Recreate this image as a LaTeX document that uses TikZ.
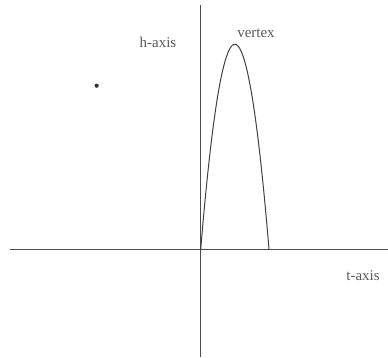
\documentclass[tikz,border=0pt]{standalone}
\usepackage{fontspec}
\setmainfont{Liberation Serif}
\begin{document}
\begin{tikzpicture}[x=1pt,y=-1pt,
  axisline/.style={draw=black!70,line width=0.9pt},
  curve/.style={draw=black!75,line width=1pt},
  lbl/.style={font=\fontsize{15}{17}\selectfont,text=black!65,inner sep=0pt}]
\useasboundingbox (0,0) rectangle (388,358);
\coordinate (vtop) at (200.7,5);
\coordinate (vbot) at (200.7,357);
\coordinate (hleft) at (10,249.3);
\coordinate (hright) at (388,249.3);
\draw[axisline] (vtop) -- (vbot);
\draw[axisline] (hleft) -- (hright);
\draw[curve] plot[domain=200.7:269,samples=80,smooth] (\x,{249.3-205*((\x-200.7)/34.15)*((269-\x)/34.15)});
\node[lbl] (haxis) at (158,42) {h-axis};
\node[lbl] (vertex) at (256,33) {vertex};
\node[lbl] (taxis) at (363,276) {t-axis};
\fill[black!80] (96.7,85.7) circle (2.1) coordinate (dot);
\end{tikzpicture}
\end{document}
